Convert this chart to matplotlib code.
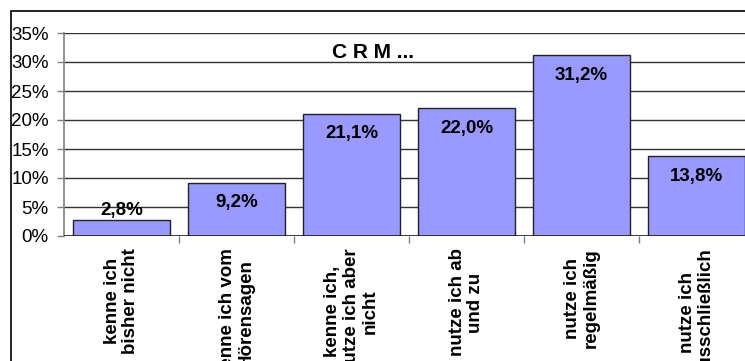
import matplotlib
matplotlib.use("Agg")
import matplotlib.pyplot as plt
from matplotlib.patches import Rectangle
from matplotlib.ticker import PercentFormatter

categories = ["kenne ich\nbisher nicht", "kenne ich vom\nHörensagen",
              "kenne ich,\nnutze ich aber\nnicht", "nutze ich ab\nund zu",
              "nutze ich\nregelmäßig", "nutze ich\nausschließlich"]
values = [2.8, 9.2, 21.1, 22.0, 31.2, 13.8]
value_labels = ["2,8%", "9,2%", "21,1%", "22,0%", "31,2%", "13,8%"]
yticks = [0, 5, 10, 15, 20, 25, 30, 35]
title = "C R M ..."

plt.rcParams['font.family'] = ['Liberation Sans', 'DejaVu Sans']

W, H = 745, 361
fig = plt.figure(figsize=(W / 100, H / 100), dpi=100)

# outer chart frame
fig.patches.append(Rectangle((11 / W, -0.1), 1.2, (H - 11) / H + 0.1,
                             transform=fig.transFigure, fill=False,
                             edgecolor='black', linewidth=1.2, clip_on=False))

left, right, top, bottom = 64, 754, 33, 236
ax = fig.add_axes([left / W, (H - bottom) / H, (right - left) / W, (bottom - top) / H])

x = list(range(len(values)))
ax.bar(x, values, width=0.835, color='#9999FF', edgecolor='#222222', linewidth=1.0, zorder=3)

ax.set_xlim(-0.5, len(values) - 0.5)
ax.set_ylim(0, 35)
ax.set_yticks(yticks)
ax.yaxis.set_major_formatter(PercentFormatter(decimals=0))
ax.yaxis.grid(True, color='#333333', linewidth=1.0, zorder=0)
ax.set_axisbelow(True)

for s in ['top', 'right', 'bottom']:
    ax.spines[s].set_visible(False)
ax.spines['left'].set_color('#808080')
ax.spines['left'].set_linewidth(1.2)
ax.axhline(0, color='#222222', linewidth=1.2, zorder=4)

ax.set_xticks([i - 0.5 for i in x[1:]], minor=False)
ax.set_xticklabels([])
ax.tick_params(axis='x', length=5, color='#808080', width=1)
ax.tick_params(axis='y', length=5, color='#808080', width=1, labelsize=13.5, pad=6)

for i, lab in enumerate(categories):
    ax.annotate(lab, xy=(i, 0), xycoords='data', xytext=(0, -9), textcoords='offset points',
                rotation=90, ha='center', va='top', multialignment='center',
                fontsize=13.5, fontweight='bold', linespacing=1.15, annotation_clip=False)

for i, (v, lab) in enumerate(zip(values, value_labels)):
    if v < 5:
        ax.annotate(lab, xy=(i, v), xytext=(0, 7), textcoords='offset points',
                    ha='center', va='center', fontsize=13.5, fontweight='bold', zorder=5)
    else:
        ax.annotate(lab, xy=(i, v), xytext=(0, -14.5), textcoords='offset points',
                    ha='center', va='center', fontsize=13.5, fontweight='bold', zorder=5)

fig.text(373.5 / W, (H - 53) / H, title, ha='center', va='center',
         fontsize=15, fontweight='bold')

fig.savefig("out.png", dpi=100)
